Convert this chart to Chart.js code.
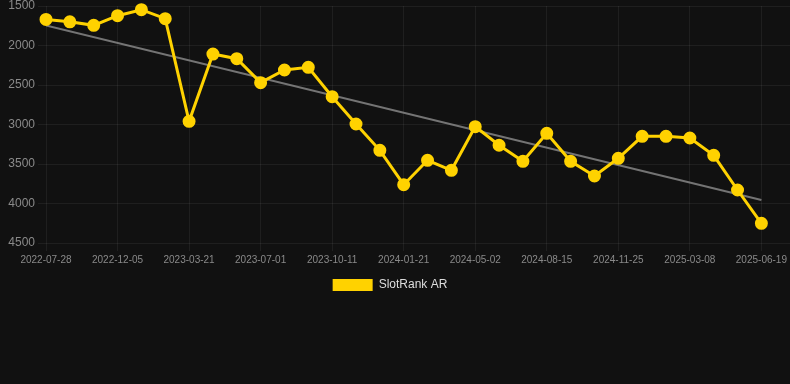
<!DOCTYPE html>
<html>
<head>
<meta charset="utf-8">
<script src="https://cdn.jsdelivr.net/npm/chart.js@4.4.1/dist/chart.umd.min.js"></script>
<style>
  html, body { margin: 0; padding: 0; background: #111111; }
  #wrap { width: 790px; height: 301px; position: relative; }
</style>
</head>
<body>
<div id="wrap"><canvas id="rankChart"></canvas></div>
<script>
// Tick labels shown under every third point
const dateTicks = ['2022-07-28', '2022-12-05', '2023-03-21', '2023-07-01', '2023-10-11',
  '2024-01-21', '2024-05-02', '2024-08-15', '2024-11-25', '2025-03-08', '2025-06-19'];

// SlotRank AR values, one per step
const rankValues = [1670, 1700, 1745, 1623, 1547, 1660, 2960, 2108, 2167, 2470,
  2310, 2276, 2648, 2994, 3327, 3762, 3453, 3580, 3027, 3263,
  3466, 3112, 3466, 3652, 3428, 3150, 3150, 3171, 3390, 3829, 4251];

const seriesName = 'SlotRank AR';
const yTicks = [1500, 2000, 2500, 3000, 3500, 4000, 4500];

// Least squares trend across the series
function trendLine(vals) {
    const n = vals.length;
    let sx = 0, sy = 0, sxy = 0, sxx = 0;
    vals.forEach((v, i) => { sx += i; sy += v; sxy += i * v; sxx += i * i; });
    const slope = (n * sxy - sx * sy) / (n * sxx - sx * sx);
    const icpt = (sy - slope * sx) / n;
    return [{ x: 0, y: icpt }, { x: n - 1, y: icpt + slope * (n - 1) }];
}

const gold = '#FFD200';
const tickColor = '#8a8a8a';
const gridColor = 'rgba(255,255,255,0.06)';

Chart.defaults.font.family = "Arial, 'Liberation Sans', sans-serif";
const baseLegendLabels = Chart.defaults.plugins.legend.labels.generateLabels;

// legend sits a few px left of centre in the original
const legendNudge = {
    id: 'legendNudge',
    afterLayout: c => { c.legend.left -= 5; c.legend.right -= 5; }
};

new Chart(document.getElementById('rankChart'), {
    type: 'line',
    data: {
        datasets: [
            {
                label: seriesName,
                data: rankValues.map((v, i) => ({ x: i, y: v })),
                borderColor: gold,
                backgroundColor: gold,
                pointBackgroundColor: gold,
                pointBorderColor: gold,
                borderWidth: 3,
                pointRadius: 5,
                tension: 0,
                clip: false
            },
            {
                label: 'trend',
                data: trendLine(rankValues),
                borderColor: 'rgba(150,150,150,0.75)',
                borderWidth: 2,
                pointRadius: 0,
                fill: false
            }
        ]
    },
    options: {
        responsive: true,
        maintainAspectRatio: false,
        animation: false,
        layout: { autoPadding: false, padding: 0 },
        plugins: {
            legend: {
                position: 'bottom',
                labels: {
                    color: '#dddddd',
                    font: { size: 12 },
                    boxWidth: 40,
                    boxHeight: 12,
                    // only the main series, drawn as a plain filled box
                    generateLabels: chart => baseLegendLabels(chart)
                        .filter(l => l.text === seriesName)
                        .map(l => Object.assign(l, { lineWidth: 0, strokeStyle: 'transparent' }))
                }
            },
            tooltip: { enabled: false }
        },
        scales: {
            x: {
                type: 'linear',
                min: 0,
                max: 31.2,
                grid: { color: gridColor },
                border: { display: false },
                afterFit: s => { s.paddingRight = 0; },
                ticks: {
                    stepSize: 3,
                    includeBounds: false,
                    autoSkip: false,
                    maxRotation: 0,
                    color: tickColor,
                    font: { size: 10 },
                    callback: v => (v % 3 === 0 ? dateTicks[v / 3] : '')
                }
            },
            y: {
                reverse: true,
                min: yTicks[0],
                max: yTicks[yTicks.length - 1],
                grid: { color: gridColor },
                border: { display: false },
                afterFit: s => { s.width = 46; s.paddingTop = 6; },
                ticks: { stepSize: 500, color: tickColor, font: { size: 12 }, callback: v => String(v) }
            }
        }
    },
    plugins: [legendNudge]
});
</script>
</body>
</html>
